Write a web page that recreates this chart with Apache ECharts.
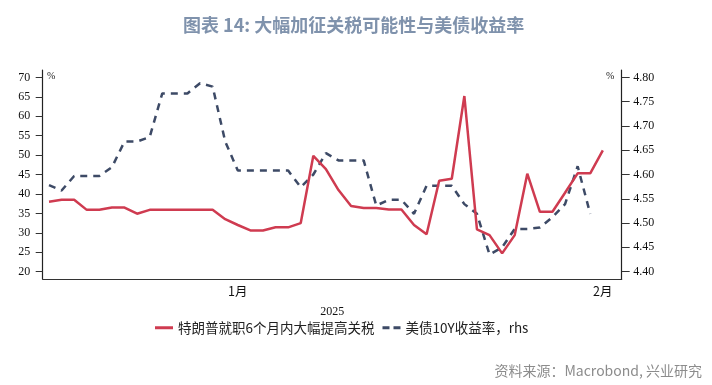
<!DOCTYPE html>
<html>
<head>
<meta charset="utf-8">
<script src="https://cdn.jsdelivr.net/npm/echarts@6/dist/echarts.min.js"></script>
<style>
html,body{margin:0;padding:0;background:#fff;}
#chart{width:712px;height:385px;}
</style>
</head>
<body>
<div id="chart"></div>
<script>
// Daily categories, 2025-01-01 .. 2025-02-15
var dates = [
 '2025-01-01','2025-01-02','2025-01-03','2025-01-04','2025-01-05','2025-01-06','2025-01-07','2025-01-08',
 '2025-01-09','2025-01-10','2025-01-11','2025-01-12','2025-01-13','2025-01-14','2025-01-15','2025-01-16',
 '2025-01-17','2025-01-18','2025-01-19','2025-01-20','2025-01-21','2025-01-22','2025-01-23','2025-01-24',
 '2025-01-25','2025-01-26','2025-01-27','2025-01-28','2025-01-29','2025-01-30','2025-01-31','2025-02-01',
 '2025-02-02','2025-02-03','2025-02-04','2025-02-05','2025-02-06','2025-02-07','2025-02-08','2025-02-09',
 '2025-02-10','2025-02-11','2025-02-12','2025-02-13','2025-02-14','2025-02-15'
];
// Probability of large tariff increase within 6 months of inauguration (%), left axis
var tariffProb = [
 38.0,38.5,38.5,35.9,35.9,36.5,36.5,34.9,35.9,35.9,35.9,35.9,35.9,35.9,33.5,32.0,
 30.6,30.6,31.4,31.4,32.5,49.8,46.4,41.0,36.9,36.4,36.4,36.0,36.0,32.0,29.6,43.4,
 43.9,65.2,30.9,29.4,24.7,29.4,45.2,35.4,35.4,40.3,45.3,45.3,51.2,null
];
// US 10Y Treasury yield (%), right axis
var ust10y = [
 4.578,4.567,4.597,4.597,4.597,4.615,4.668,4.668,4.677,4.767,4.767,4.767,4.788,4.781,4.668,4.608,
 4.608,4.608,4.608,4.608,4.574,4.600,4.644,4.629,4.629,4.629,4.536,4.548,4.548,4.519,4.577,4.577,
 4.577,4.539,4.519,4.435,4.450,4.488,4.488,4.491,4.512,4.539,4.617,4.519,null,null
];
var leftTicks = [20,25,30,35,40,45,50,55,60,65,70];
var rightTicks = [4.40,4.45,4.50,4.55,4.60,4.65,4.70,4.75,4.80];
var monthTickLabels = {'2025-01-16':'1月','2025-02-14':'2月'};
var monthBoundaries = ['2025-01-01','2025-02-01'];
var yearLabel = '2025';
var seriesNames = ['特朗普就职6个月内大幅提高关税','美债10Y收益率，rhs'];

var chart = echarts.init(document.getElementById('chart'), null, {renderer:'canvas'});
var serif = '"Liberation Serif","Times New Roman",serif';
var cjk = '"Noto Sans CJK SC","Noto Sans",sans-serif';
var redColor = '#cf3b50', navyColor = '#3d4a66';

var option = {
  animation:false,
  backgroundColor:'#fff',
  title:{
    text:'图表 14: 大幅加征关税可能性与美债收益率',
    left:178, top:11,
    textStyle:{fontFamily:cjk,fontSize:18,fontWeight:'bold',color:'#7f92ac'}
  },
  grid:{left:42.7,right:90.3,top:70,bottom:106,containLabel:false},
  legend:{
    left:150, top:316, itemWidth:18, itemHeight:3, itemGap:8,
    textStyle:{fontFamily:cjk,fontSize:13.5,color:'#222'},
    data:[
      {name:seriesNames[0],icon:'rect',itemStyle:{color:redColor}},
      {name:seriesNames[1],icon:'path://M0,0H7V3H0ZM11,0H18V3H11Z',itemStyle:{color:navyColor}}
    ]
  },
  xAxis:{
    type:'category', data:dates, boundaryGap:true,
    name:yearLabel, nameLocation:'middle', nameGap:27,
    nameTextStyle:{fontFamily:serif,fontSize:12,color:'#111'},
    axisLine:{lineStyle:{color:'#333',width:1.2}},
    axisTick:{length:6,lineStyle:{color:'#333'},
      interval:function(i,v){return monthBoundaries.indexOf(v)>=0 || i>=dates.length;}},
    axisLabel:{interval:0,margin:6,fontFamily:cjk,fontSize:12.5,color:'#111',
      formatter:function(v){return monthTickLabels[v]||'';}}
  },
  yAxis:[
    {type:'value',min:18.1,max:71.9,position:'left',
     axisLine:{show:true,lineStyle:{color:'#222',width:1.2}},
     axisTick:{show:true,length:7,customValues:leftTicks,lineStyle:{color:'#333'}},
     axisLabel:{customValues:leftTicks,margin:12.5,fontFamily:serif,fontSize:12,color:'#111'},
     splitLine:{show:false}},
    {type:'value',min:4.3848,max:4.8152,position:'right',
     axisLine:{show:true,lineStyle:{color:'#222',width:1.2}},
     axisTick:{show:true,length:8,customValues:rightTicks,lineStyle:{color:'#333'}},
     axisLabel:{customValues:rightTicks,margin:11.5,fontFamily:serif,fontSize:12,color:'#111',
       formatter:function(v){return v.toFixed(2);}},
     splitLine:{show:false}}
  ],
  series:[
    {name:seriesNames[0],type:'line',yAxisIndex:0,data:tariffProb,showSymbol:false,symbol:'none',
     z:3,lineStyle:{color:redColor,width:2.5},itemStyle:{color:redColor}},
    {name:seriesNames[1],type:'line',yAxisIndex:1,data:ust10y,showSymbol:false,symbol:'none',
     z:2,lineStyle:{color:navyColor,width:2.5,type:[7,6]},itemStyle:{color:navyColor}}
  ],
  graphic:[
    {type:'text',left:47,top:71,style:{text:'%',fontFamily:serif,fontSize:10,fill:'#222'}},
    {type:'text',left:606,top:71,style:{text:'%',fontFamily:serif,fontSize:10,fill:'#222'}},
    {type:'text',right:10,top:364,style:{text:'资料来源：Macrobond, 兴业研究',fontFamily:cjk,fontSize:14,fill:'#8c8c8c'}}
  ]
};
chart.setOption(option);
</script>
</body>
</html>
